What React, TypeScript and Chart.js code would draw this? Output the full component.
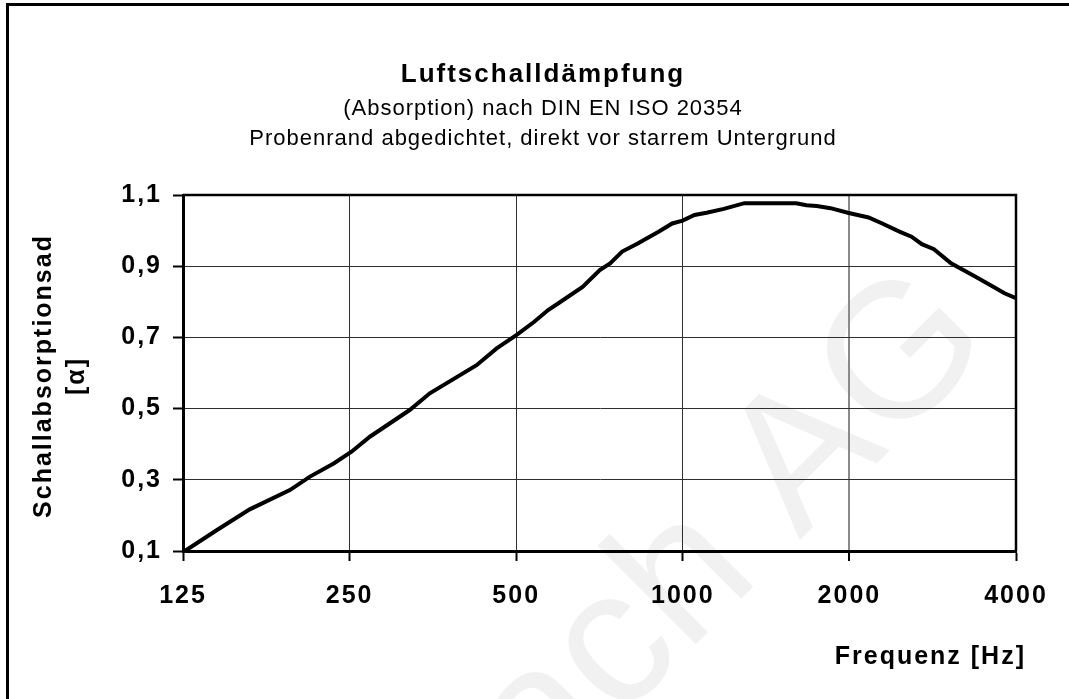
import React, { useEffect, useRef } from 'react';
import { Chart, registerables } from 'chart.js';

Chart.register(...registerables);

// ---- data ----
const frequencies = [126, 144, 165, 195, 212, 234, 252, 272, 321, 349, 424, 461, 501, 539, 571, 596, 659, 708, 739, 777, 829, 904, 957, 999, 1050, 1104, 1186, 1292, 1602, 1673, 1746, 1849, 1986, 2166, 2293, 2463, 2590, 2704, 2843, 3053, 3375, 3625, 3813, 4000];
const absorption = [0.100, 0.159, 0.217, 0.271, 0.309, 0.346, 0.379, 0.421, 0.496, 0.543, 0.622, 0.669, 0.707, 0.744, 0.777, 0.796, 0.842, 0.889, 0.908, 0.941, 0.964, 0.997, 1.020, 1.028, 1.044, 1.050, 1.061, 1.077, 1.077, 1.071, 1.069, 1.063, 1.050, 1.037, 1.020, 0.997, 0.983, 0.962, 0.948, 0.908, 0.871, 0.844, 0.824, 0.810];
const xTicks = [125, 250, 500, 1000, 2000, 4000];
const yTicks = [0.1, 0.3, 0.5, 0.7, 0.9, 1.1];

const titleText = 'Luftschalldämpfung';
const subtitleLines = ['(Absorption) nach DIN EN ISO 20354', 'Probenrand abgedichtet, direkt vor starrem Untergrund'];
const yTitleLines = ['Schallabsorptionsad', '[α]'];
const xTitleText = 'Frequenz [Hz]';
const watermarkText = 'ach AG';

const FONT = "'Liberation Sans', Arial, sans-serif";

const decorPlugin = {
  id: 'decor',
  beforeDraw(chart: any) {
    const ctx = chart.ctx;
    ctx.save();
    ctx.translate(543, 797);
    ctx.rotate(-Math.PI / 4);
    ctx.fillStyle = '#f1f1f1';
    ctx.font = `192px ${FONT}`;
    ctx.textAlign = 'left';
    ctx.textBaseline = 'alphabetic';
    ctx.fillText(watermarkText, 0, 0);
    ctx.restore();
    ctx.letterSpacing = '2px';
  },
  afterDraw(chart: any) {
    const ctx = chart.ctx;
    const a = chart.chartArea;
    ctx.save();
    // plot border top & right
    ctx.strokeStyle = '#000';
    ctx.lineWidth = 2.5;
    ctx.beginPath();
    ctx.moveTo(a.left, a.top);
    ctx.lineTo(a.right, a.top);
    ctx.lineTo(a.right, a.bottom);
    ctx.stroke();
    // outer frame (top & left visible)
    ctx.fillStyle = '#000';
    ctx.fillRect(6, 3, 3, 699);
    ctx.fillRect(6, 3, 1069, 3);

    ctx.fillStyle = '#000';
    ctx.textAlign = 'center';
    ctx.textBaseline = 'alphabetic';
    ctx.letterSpacing = '2px';
    ctx.font = `bold 26px ${FONT}`;
    ctx.fillText(titleText, 543, 82);
    ctx.letterSpacing = '1px';
    ctx.font = `22px ${FONT}`;
    ctx.fillText(subtitleLines[0], 543, 115);
    ctx.fillText(subtitleLines[1], 543, 145);

    // x title
    ctx.letterSpacing = '2px';
    ctx.font = `bold 25px ${FONT}`;
    ctx.textAlign = 'right';
    ctx.textBaseline = 'middle';
    ctx.fillText(xTitleText, 1026, 657);

    // y title
    ctx.save();
    ctx.translate(51, 376);
    ctx.rotate(-Math.PI / 2);
    ctx.textAlign = 'center';
    ctx.textBaseline = 'alphabetic';
    ctx.fillText(yTitleLines[0], 0, 0);
    ctx.fillText(yTitleLines[1], 0, 33);
    ctx.restore();
    ctx.restore();
  },
};

export default function App() {
  const ref = useRef<HTMLCanvasElement>(null);
  useEffect(() => {
    const tickFont = { family: FONT, size: 25, weight: 'bold' as const };
    const yGrid = { color: '#2e2e2e', lineWidth: 1, tickLength: 10, tickColor: '#000', tickWidth: 2, drawTicks: true };
    const xGrid = {
      color: (c: any) => (c.tick && c.tick.value === 2000 ? '#8a8a8a' : '#2e2e2e'),
      lineWidth: (c: any) => (c.tick && c.tick.value === 2000 ? 2 : 1),
      tickLength: 10,
      tickColor: '#000',
      tickWidth: 2,
      drawTicks: true,
    };
    const chart = new Chart(ref.current!, {
      type: 'line',
      data: {
        datasets: [
          {
            data: frequencies.map((f, i) => ({ x: f, y: absorption[i] })),
            borderColor: '#000',
            borderWidth: 4,
            pointRadius: 0,
            tension: 0,
            fill: false,
          },
        ],
      },
      options: {
        animation: false,
        responsive: false,
        devicePixelRatio: 1,
        layout: { padding: { top: 195, right: 53, left: 0, bottom: 0 } },
        plugins: { legend: { display: false }, tooltip: { enabled: false }, title: { display: false } },
        scales: {
          x: {
            type: 'logarithmic',
            min: 125,
            max: 4000,
            afterBuildTicks: (s: any) => {
              s.ticks = xTicks.map((v) => ({ value: v }));
            },
            afterFit: (s: any) => {
              s.height = 148;
            },
            grid: xGrid,
            border: { color: '#000', width: 3 },
            ticks: {
              color: '#000',
              font: tickFont,
              padding: 20,
              maxRotation: 0,
              autoSkip: false,
              callback: (v: any) => String(v),
            },
          },
          y: {
            type: 'linear',
            min: 0.1,
            max: 1.1,
            afterBuildTicks: (s: any) => {
              s.ticks = yTicks.map((v) => ({ value: v }));
            },
            afterFit: (s: any) => {
              s.width = 183;
            },
            grid: yGrid,
            border: { color: '#000', width: 3 },
            ticks: {
              color: '#000',
              font: tickFont,
              padding: 11,
              callback: (v: any) => Number(v).toFixed(1).replace('.', ','),
            },
          },
        },
      },
      plugins: [decorPlugin],
    });
    return () => chart.destroy();
  }, []);
  return (
    <div style={{ position: 'fixed', left: 0, top: 0, width: 1069, height: 699, background: '#fff', overflow: 'hidden' }}>
      <canvas ref={ref} width={1069} height={699} style={{ display: 'block', width: 1069, height: 699 }} />
    </div>
  );
}
